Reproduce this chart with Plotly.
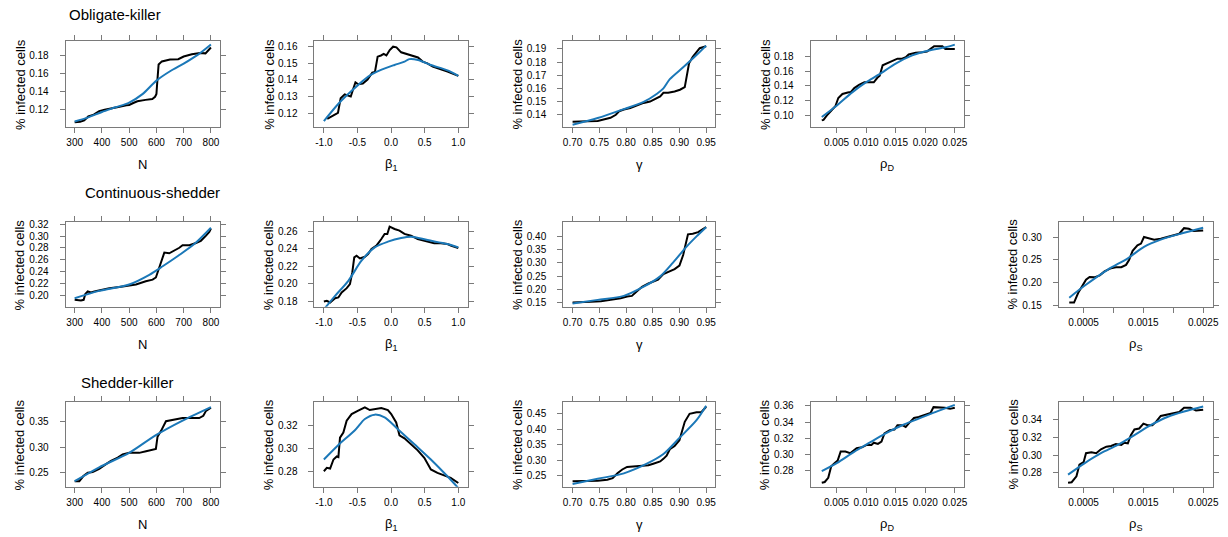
import plotly.graph_objects as go

# ---------------- Obligate-killer ----------------
ok_n_x = [300, 320, 335, 350, 370, 390, 410, 430, 460, 490, 500, 515, 530, 560, 585, 595, 600, 603, 608, 620, 650, 680, 700, 730, 760, 780, 790, 800]
ok_n_raw = [0.1055, 0.1060, 0.1075, 0.1120, 0.1140, 0.1180, 0.1195, 0.1205, 0.1225, 0.1245, 0.1248, 0.1270, 0.1290, 0.1305, 0.1315, 0.1340, 0.1370, 0.1500, 0.1700, 0.1735, 0.1755, 0.1760, 0.1790, 0.1815, 0.1830, 0.1825, 0.1855, 0.1890]
ok_n_fit_x = [300, 350, 400, 450, 500, 550, 600, 650, 700, 750, 800]
ok_n_fit = [0.1063, 0.1110, 0.1170, 0.1222, 0.1275, 0.1372, 0.1520, 0.1625, 0.1710, 0.1805, 0.1925]

ok_b_x = [-0.95, -0.86, -0.79, -0.75, -0.69, -0.64, -0.60, -0.56, -0.53, -0.49, -0.42, -0.35, -0.28, -0.24, -0.20, -0.15, -0.11, -0.07, -0.02, 0.03, 0.08, 0.15, 0.23, 0.30, 0.40, 0.47, 0.54, 0.62, 0.72, 0.84, 1.00]
ok_b_raw = [0.1166, 0.1186, 0.1202, 0.1290, 0.1313, 0.1305, 0.1300, 0.1350, 0.1385, 0.1374, 0.1378, 0.1402, 0.1444, 0.1448, 0.1540, 0.1547, 0.1556, 0.1547, 0.1580, 0.1600, 0.1596, 0.1566, 0.1556, 0.1543, 0.1535, 0.1510, 0.1500, 0.1480, 0.1467, 0.1450, 0.1424]
ok_b_fit_x = [-1.0, -0.78, -0.59, -0.34, -0.15, 0.05, 0.20, 0.27, 0.40, 0.59, 0.84, 1.0]
ok_b_fit = [0.1152, 0.1258, 0.1333, 0.1420, 0.1460, 0.1490, 0.1510, 0.1525, 0.1520, 0.1490, 0.1457, 0.1424]

ok_g_x = [0.700, 0.716, 0.728, 0.747, 0.759, 0.771, 0.781, 0.787, 0.796, 0.808, 0.821, 0.833, 0.845, 0.855, 0.864, 0.870, 0.879, 0.891, 0.901, 0.910, 0.913, 0.918, 0.925, 0.938, 0.950]
ok_g_raw = [0.1347, 0.1347, 0.1350, 0.1353, 0.1365, 0.1377, 0.1400, 0.1427, 0.1440, 0.1451, 0.1471, 0.1490, 0.1500, 0.1520, 0.1540, 0.1567, 0.1567, 0.1577, 0.1590, 0.1610, 0.1670, 0.1790, 0.1840, 0.1905, 0.1920]
ok_g_fit_x = [0.70, 0.747, 0.796, 0.833, 0.858, 0.870, 0.882, 0.907, 0.932, 0.95]
ok_g_fit = [0.1325, 0.1375, 0.1443, 0.1498, 0.1560, 0.1600, 0.1670, 0.1760, 0.1853, 0.1925]

ok_d_x = [0.0025, 0.0028, 0.0035, 0.0040, 0.0048, 0.0053, 0.0060, 0.0069, 0.0074, 0.0080, 0.0088, 0.0097, 0.0105, 0.0113, 0.0119, 0.0123, 0.0128, 0.0136, 0.0144, 0.0153, 0.0161, 0.0167, 0.0172, 0.0184, 0.0195, 0.0203, 0.0209, 0.0215, 0.0229, 0.0234, 0.0250]
ok_d_raw = [0.0933, 0.0938, 0.1013, 0.1058, 0.1124, 0.1236, 0.1290, 0.1310, 0.1316, 0.1370, 0.1413, 0.1449, 0.1444, 0.1449, 0.1510, 0.1538, 0.1680, 0.1711, 0.1733, 0.1769, 0.1769, 0.1790, 0.1827, 0.1849, 0.1858, 0.1867, 0.1902, 0.1938, 0.1938, 0.1902, 0.1902]
ok_d_fit_x = [0.0025, 0.0049, 0.0077, 0.0099, 0.0122, 0.0150, 0.0178, 0.0206, 0.0234, 0.0250]
ok_d_fit = [0.0978, 0.1124, 0.1316, 0.1444, 0.1556, 0.1702, 0.1813, 0.1880, 0.1924, 0.1960]

# ---------------- Continuous-shedder ----------------
cs_n_x = [300, 323, 333, 339, 348, 360, 372, 390, 427, 464, 500, 525, 561, 586, 598, 608, 620, 629, 647, 665, 684, 696, 721, 745, 763, 782, 794, 800]
cs_n_raw = [0.1930, 0.1920, 0.1930, 0.2027, 0.2070, 0.2054, 0.2070, 0.2090, 0.2123, 0.2145, 0.2171, 0.2188, 0.2241, 0.2268, 0.2305, 0.2429, 0.2589, 0.2723, 0.2711, 0.2750, 0.2804, 0.2846, 0.2846, 0.2884, 0.2921, 0.3007, 0.3071, 0.3125]
cs_n_fit_x = [300, 390, 500, 574, 623, 680, 740, 800]
cs_n_fit = [0.1957, 0.2080, 0.2188, 0.2350, 0.2493, 0.2670, 0.2870, 0.3140]

cs_b_x = [-1.0, -0.956, -0.907, -0.833, -0.784, -0.735, -0.66, -0.612, -0.577, -0.548, -0.513, -0.464, -0.39, -0.342, -0.292, -0.218, -0.145, -0.096, -0.056, -0.022, 0.052, 0.125, 0.199, 0.297, 0.396, 0.543, 0.641, 0.74, 0.838, 0.897, 1.0]
cs_b_raw = [0.1800, 0.1808, 0.1789, 0.1838, 0.1846, 0.1903, 0.1952, 0.1998, 0.2131, 0.2303, 0.2322, 0.2291, 0.2310, 0.2340, 0.2398, 0.2436, 0.2512, 0.2570, 0.2570, 0.2653, 0.2627, 0.2608, 0.2570, 0.2550, 0.2512, 0.2486, 0.2463, 0.2463, 0.2455, 0.2436, 0.2410]
cs_b_fit_x = [-1.0, -0.833, -0.636, -0.44, -0.243, -0.047, 0.15, 0.30, 0.543, 0.838, 1.0]
cs_b_fit = [0.1710, 0.1865, 0.2036, 0.2265, 0.2417, 0.2482, 0.2524, 0.2539, 0.2500, 0.2455, 0.2417]

cs_g_x = [0.700, 0.716, 0.734, 0.753, 0.771, 0.790, 0.802, 0.811, 0.821, 0.830, 0.842, 0.851, 0.860, 0.870, 0.882, 0.891, 0.900, 0.907, 0.916, 0.925, 0.935, 0.950]
cs_g_raw = [0.1500, 0.1500, 0.1525, 0.1550, 0.1600, 0.1660, 0.1725, 0.1750, 0.1935, 0.2096, 0.2220, 0.2302, 0.2364, 0.2574, 0.2673, 0.2760, 0.2896, 0.3295, 0.4074, 0.4100, 0.4160, 0.4347]
cs_g_fit_x = [0.70, 0.747, 0.796, 0.833, 0.864, 0.888, 0.913, 0.932, 0.95]
cs_g_fit = [0.1463, 0.1600, 0.1750, 0.2096, 0.2487, 0.3007, 0.3604, 0.4000, 0.4347]

cs_s_x = [0.00026, 0.00034, 0.00041, 0.00047, 0.00054, 0.00060, 0.00068, 0.00077, 0.00085, 0.00096, 0.00104, 0.00113, 0.00121, 0.00126, 0.00132, 0.00140, 0.00146, 0.00151, 0.00157, 0.00168, 0.00179, 0.00190, 0.00201, 0.00210, 0.00218, 0.00226, 0.00234, 0.00243, 0.00250]
cs_s_raw = [0.1571, 0.1571, 0.1786, 0.1907, 0.2071, 0.2129, 0.2121, 0.2164, 0.2250, 0.2321, 0.2343, 0.2343, 0.2393, 0.2500, 0.2700, 0.2821, 0.2857, 0.3000, 0.2979, 0.2943, 0.2964, 0.3000, 0.3036, 0.3071, 0.3193, 0.3179, 0.3129, 0.3143, 0.3143]
cs_s_fit_x = [0.00026, 0.00052, 0.00090, 0.00124, 0.00151, 0.00179, 0.00212, 0.00250]
cs_s_fit = [0.1679, 0.1943, 0.2286, 0.2536, 0.2786, 0.2943, 0.3071, 0.3200]

# ---------------- Shedder-killer ----------------
sk_n_x = [300, 317, 332, 348, 366, 390, 415, 433, 458, 476, 500, 537, 562, 592, 598, 604, 617, 635, 659, 696, 733, 757, 772, 782, 800]
sk_n_raw = [0.2336, 0.2336, 0.2437, 0.2500, 0.2513, 0.2575, 0.2670, 0.2733, 0.2796, 0.2858, 0.2889, 0.2889, 0.2921, 0.2965, 0.2965, 0.3204, 0.3318, 0.3506, 0.3531, 0.3569, 0.3569, 0.3569, 0.3613, 0.3708, 0.3770]
sk_n_fit_x = [300, 390, 500, 598, 696, 800]
sk_n_fit = [0.2336, 0.2607, 0.2889, 0.3235, 0.3519, 0.3783]

sk_b_x = [-1.0, -0.956, -0.907, -0.857, -0.808, -0.784, -0.76, -0.71, -0.661, -0.587, -0.489, -0.39, -0.317, -0.243, -0.145, -0.047, 0.002, 0.076, 0.125, 0.199, 0.297, 0.396, 0.494, 0.592, 0.69, 0.789, 0.887, 1.0]
sk_b_raw = [0.2800, 0.2829, 0.2823, 0.2902, 0.2928, 0.2923, 0.3092, 0.3136, 0.3238, 0.3296, 0.3326, 0.3355, 0.3331, 0.3340, 0.3349, 0.3331, 0.3296, 0.3223, 0.3112, 0.3086, 0.3034, 0.2981, 0.2917, 0.2815, 0.2785, 0.2765, 0.2742, 0.2698]
sk_b_fit_x = [-1.0, -0.784, -0.538, -0.39, -0.243, -0.096, 0.101, 0.347, 0.592, 0.838, 1.0]
sk_b_fit = [0.2902, 0.3028, 0.3156, 0.3253, 0.3291, 0.3267, 0.3165, 0.3034, 0.2902, 0.2756, 0.2654]

sk_g_x = [0.700, 0.722, 0.747, 0.765, 0.775, 0.784, 0.793, 0.802, 0.815, 0.827, 0.842, 0.851, 0.864, 0.870, 0.876, 0.882, 0.891, 0.900, 0.904, 0.910, 0.919, 0.932, 0.941, 0.950]
sk_g_raw = [0.2313, 0.2313, 0.2333, 0.2365, 0.2417, 0.2573, 0.2698, 0.2781, 0.2802, 0.2833, 0.2833, 0.2885, 0.2958, 0.3042, 0.3146, 0.3354, 0.3458, 0.3646, 0.3875, 0.4240, 0.4500, 0.4552, 0.4552, 0.4729]
sk_g_fit_x = [0.70, 0.747, 0.796, 0.839, 0.87, 0.90, 0.932, 0.95]
sk_g_fit = [0.2229, 0.2396, 0.2573, 0.2885, 0.3198, 0.3719, 0.4292, 0.4760]

sk_d_x = [0.0025, 0.0030, 0.0036, 0.0041, 0.0047, 0.0052, 0.0057, 0.0065, 0.0073, 0.0079, 0.0084, 0.0093, 0.0101, 0.0109, 0.0113, 0.0120, 0.0126, 0.0131, 0.0140, 0.0148, 0.0153, 0.0162, 0.0167, 0.0173, 0.0181, 0.0189, 0.0198, 0.0206, 0.0209, 0.0214, 0.0225, 0.0233, 0.0242, 0.0250]
sk_d_raw = [0.2650, 0.2659, 0.2711, 0.2853, 0.2894, 0.2926, 0.3036, 0.3036, 0.3015, 0.3044, 0.3076, 0.3088, 0.3117, 0.3117, 0.3145, 0.3129, 0.3157, 0.3259, 0.3300, 0.3308, 0.3360, 0.3360, 0.3340, 0.3389, 0.3450, 0.3462, 0.3482, 0.3503, 0.3511, 0.3584, 0.3584, 0.3576, 0.3563, 0.3576]
sk_d_fit_x = [0.0025, 0.0051, 0.0079, 0.0106, 0.0133, 0.0161, 0.0189, 0.0217, 0.0250]
sk_d_fit = [0.2792, 0.2894, 0.3028, 0.3145, 0.3259, 0.3360, 0.3442, 0.3523, 0.3612]

sk_s_x = [0.00024, 0.00030, 0.00038, 0.00043, 0.00050, 0.00054, 0.00063, 0.00071, 0.00079, 0.00088, 0.00096, 0.00104, 0.00113, 0.00118, 0.00124, 0.00129, 0.00135, 0.00143, 0.00150, 0.00157, 0.00165, 0.00171, 0.00179, 0.00190, 0.00201, 0.00210, 0.00218, 0.00229, 0.00238, 0.00250]
sk_s_raw = [0.2690, 0.2697, 0.2763, 0.2892, 0.2921, 0.3021, 0.3031, 0.3021, 0.3065, 0.3094, 0.3102, 0.3124, 0.3113, 0.3139, 0.3131, 0.3223, 0.3286, 0.3297, 0.3352, 0.3334, 0.3334, 0.3371, 0.3437, 0.3455, 0.3470, 0.3481, 0.3529, 0.3529, 0.3499, 0.3507]
sk_s_fit_x = [0.00024, 0.00052, 0.00079, 0.00107, 0.00135, 0.00162, 0.00190, 0.00218, 0.00250]
sk_s_fit = [0.2782, 0.2911, 0.3021, 0.3113, 0.3223, 0.3334, 0.3426, 0.3488, 0.3544]

# ---------------- axis tick labels ----------------
n_ticks = ["300", "400", "500", "600", "700", "800"]
b_ticks = ["-1.0", "-0.5", "0.0", "0.5", "1.0"]
g_ticks = ["0.70", "0.75", "0.80", "0.85", "0.90", "0.95"]
d_ticks = ["0.005", "0.010", "0.015", "0.020", "0.025"]
s_ticks = ["0.0005", "0.0015", "0.0025"]
s_minor_ticks = [0.0010, 0.0020]   # unlabelled tick marks between the labelled ones

group_titles = ["Obligate-killer", "Continuous-shedder", "Shedder-killer"]
y_label = "% infected cells"

W, H = 1228, 537
FONT = "Liberation Sans, Arial, sans-serif"
FRAME = "#7a7a7a"
BLUE = "#1b78b8"

# pixel layout of the panel frames
col_left = [66, 316, 566, 814.5, 1064]
col_right = [221, 470, 719, 969, 1218.7]
row_top = [38, 222, 405]
row_bot = [125, 308, 491]

x_specs = {
    "N": dict(range=[267, 833], ticktext=n_ticks, minor=None, label="N"),
    "b": dict(range=[-1.14, 1.14], ticktext=b_ticks, minor=None, label="β<sub>1</sub>"),
    "g": dict(range=[0.6825, 0.9675], ticktext=g_ticks, minor=None, label="γ"),
    "d": dict(range=[0.0006, 0.0266], ticktext=d_ticks, minor=None, label="ρ<sub>D</sub>"),
    "s": dict(range=[0.000085, 0.00266], ticktext=s_ticks, minor=s_minor_ticks,
              label="ρ<sub>S</sub>"),
}

# (row, col, x kind, raw x, raw y, fit x, fit y, y range, y ticks)
panels = [
    (0, 0, "N", ok_n_x, ok_n_raw, ok_n_fit_x, ok_n_fit, [0.1003, 0.1959], [0.12, 0.14, 0.16, 0.18]),
    (0, 1, "b", ok_b_x, ok_b_raw, ok_b_fit_x, ok_b_fit, [0.1117, 0.1632], [0.12, 0.13, 0.14, 0.15, 0.16]),
    (0, 2, "g", ok_g_x, ok_g_raw, ok_g_fit_x, ok_g_fit, [0.1308, 0.1957], [0.14, 0.15, 0.16, 0.17, 0.18, 0.19]),
    (0, 3, "d", ok_d_x, ok_d_raw, ok_d_fit_x, ok_d_fit, [0.0844, 0.2004], [0.10, 0.12, 0.14, 0.16, 0.18]),
    (1, 0, "N", cs_n_x, cs_n_raw, cs_n_fit_x, cs_n_fit, [0.1812, 0.3232], [0.20, 0.22, 0.24, 0.26, 0.28, 0.30, 0.32]),
    (1, 1, "b", cs_b_x, cs_b_raw, cs_b_fit_x, cs_b_fit, [0.1739, 0.2703], [0.18, 0.20, 0.22, 0.24, 0.26]),
    (1, 2, "g", cs_g_x, cs_g_raw, cs_g_fit_x, cs_g_fit, [0.1337, 0.4531], [0.15, 0.20, 0.25, 0.30, 0.35, 0.40]),
    (1, 4, "s", cs_s_x, cs_s_raw, cs_s_fit_x, cs_s_fit, [0.1479, 0.3321], [0.15, 0.20, 0.25, 0.30]),
    (2, 0, "N", sk_n_x, sk_n_raw, sk_n_fit_x, sk_n_fit, [0.2228, 0.3877], [0.25, 0.30, 0.35]),
    (2, 1, "b", sk_b_x, sk_b_raw, sk_b_fit_x, sk_b_fit, [0.2665, 0.3399], [0.28, 0.30, 0.32]),
    (2, 2, "g", sk_g_x, sk_g_raw, sk_g_fit_x, sk_g_fit, [0.2138, 0.4875], [0.25, 0.30, 0.35, 0.40, 0.45]),
    (2, 3, "d", sk_d_x, sk_d_raw, sk_d_fit_x, sk_d_fit, [0.2600, 0.3645], [0.28, 0.30, 0.32, 0.34, 0.36]),
    (2, 4, "s", sk_s_x, sk_s_raw, sk_s_fit_x, sk_s_fit, [0.2646, 0.3591], [0.28, 0.30, 0.32, 0.34]),
]

fig = go.Figure()
layout = {}
annotations = []

axis_common = dict(
    showline=True, linecolor=FRAME, linewidth=1, mirror="ticks",
    ticks="outside", ticklen=5, tickwidth=1, tickcolor=FRAME,
    showgrid=False, zeroline=False, fixedrange=True,
    tickfont=dict(family=FONT, size=10, color="#000000"),
)

for i, (r, c, xk, rx, ry, fx, fy, yr, yt) in enumerate(panels, start=1):
    xs = x_specs[xk]
    xname = "xaxis" if i == 1 else f"xaxis{i}"
    yname = "yaxis" if i == 1 else f"yaxis{i}"
    xref = "x" if i == 1 else f"x{i}"
    yref = "y" if i == 1 else f"y{i}"
    x0, x1 = col_left[c] / W, col_right[c] / W
    y0, y1 = 1 - row_bot[r] / H, 1 - row_top[r] / H
    xaxis = dict(axis_common, domain=[x0, x1], anchor=yref, range=xs["range"],
                 tickmode="array", tickvals=[float(t) for t in xs["ticktext"]],
                 ticktext=xs["ticktext"], ticklabelstandoff=1)
    if xs["minor"]:
        xaxis["minor"] = dict(tickmode="array", tickvals=xs["minor"], ticks="outside",
                              ticklen=5, tickwidth=1, tickcolor=FRAME, showgrid=False)
    layout[xname] = xaxis
    layout[yname] = dict(axis_common, domain=[y0, y1], anchor=xref, range=yr,
                         tickmode="array", tickvals=yt,
                         ticktext=[f"{v:.2f}" for v in yt], ticklabelstandoff=9)

    fig.add_trace(go.Scatter(x=rx, y=ry, xaxis=xref, yaxis=yref, mode="lines",
                             line=dict(color="#000000", width=2), showlegend=False,
                             hoverinfo="skip"))
    fig.add_trace(go.Scatter(x=fx, y=fy, xaxis=xref, yaxis=yref, mode="lines",
                             line=dict(color=BLUE, width=2, shape="spline", smoothing=0.8),
                             showlegend=False, hoverinfo="skip"))

    # axis titles
    cx = (col_left[c] + col_right[c]) / 2
    annotations.append(dict(text=xs["label"], x=cx / W, y=1 - (row_bot[r] + 38) / H,
                            xref="paper", yref="paper", showarrow=False,
                            xanchor="center", yanchor="middle",
                            font=dict(family=FONT, size=13, color="#000000")))
    cy = (row_top[r] + row_bot[r]) / 2
    annotations.append(dict(text=y_label, x=(col_left[c] - 46) / W, y=1 - cy / H,
                            xref="paper", yref="paper", showarrow=False, textangle=-90,
                            xanchor="center", yanchor="middle",
                            font=dict(family=FONT, size=13, color="#000000")))

# group titles
title_pos = [(67, 11), (83, 192), (79, 385)]
for txt, (tx, ty) in zip(group_titles, title_pos):
    annotations.append(dict(text=txt, x=tx / W, y=1 - ty / H, xref="paper", yref="paper",
                            showarrow=False, xanchor="left", yanchor="middle",
                            font=dict(family=FONT, size=15, color="#000000")))

fig.update_layout(
    width=W, height=H, margin=dict(l=0, r=0, t=0, b=0),
    paper_bgcolor="white", plot_bgcolor="white",
    annotations=annotations, showlegend=False,
    **layout,
)

fig.write_html("out.html")
